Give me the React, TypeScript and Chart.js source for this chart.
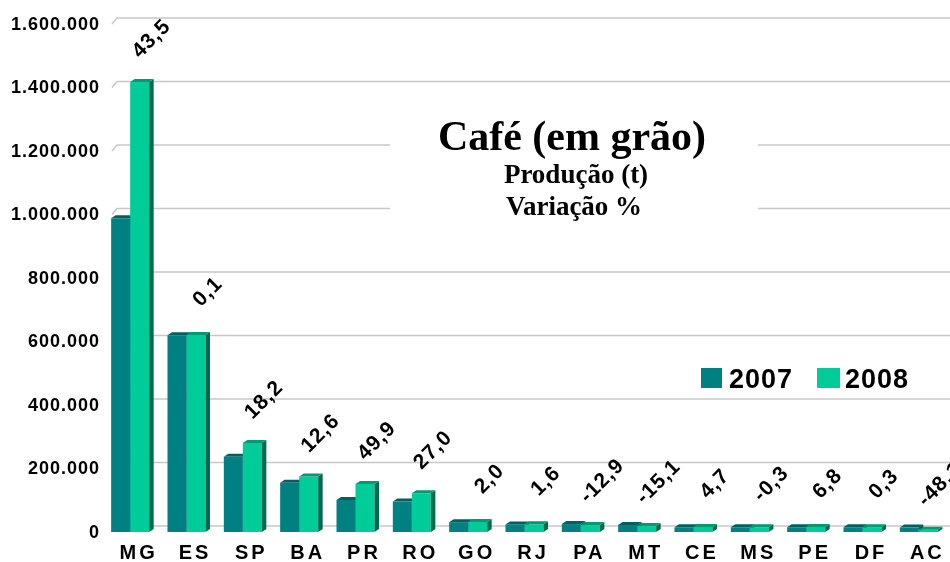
import React, { useEffect, useRef } from "react";
import { Chart, registerables } from "chart.js";

Chart.register(...registerables);

const categories = ["MG", "ES", "SP", "BA", "PR", "RO", "GO", "RJ", "PA", "MT", "CE", "MS", "PE", "DF", "AC"];
const prod2007 = [988000, 620000, 237000, 155000, 101000, 96000, 31000, 24000, 25000, 22000, 15000, 15000, 15000, 15000, 14000];
const prod2008 = [1417000, 620600, 280000, 174500, 151400, 122000, 31600, 24400, 21800, 18700, 15700, 14950, 16000, 15050, 7300];
const variation = [43.5, 0.1, 18.2, 12.6, 49.9, 27.0, 2.0, 1.6, -12.9, -15.1, 4.7, -0.3, 6.8, 0.3, -48.1];
const yTicks = [0, 200000, 400000, 600000, 800000, 1000000, 1200000, 1400000, 1600000];
const seriesNames = ["2007", "2008"];
const titleLines = ["Café (em grão)", "Produção (t)", "Variação %"];

const C2007 = { front: "#008080", top: "#005f5f", side: "#004f4f" };
const C2008 = { front: "#00cc99", top: "#009a72", side: "#006a4e" };
const SANS = '"Liberation Sans", Arial, sans-serif';
const SERIF = '"Liberation Serif", "Times New Roman", serif';
const DX = 4.5;
const DY = 3;

const fmtThousands = (v: number) => v.toString().replace(/\B(?=(\d{3})+(?!\d))/g, ".");
const fmtVar = (v: number) => v.toFixed(1).replace(".", ",");

function drawFaces(ctx: CanvasRenderingContext2D, bar: any, col: { top: string; side: string }) {
  const l = bar.x - bar.width / 2;
  const r = bar.x + bar.width / 2;
  const t = bar.y;
  const b = bar.base;
  ctx.fillStyle = col.side;
  ctx.beginPath();
  ctx.moveTo(r, t);
  ctx.lineTo(r + DX, t - DY);
  ctx.lineTo(r + DX, b - DY);
  ctx.lineTo(r, b);
  ctx.closePath();
  ctx.fill();
  ctx.fillStyle = col.top;
  ctx.beginPath();
  ctx.moveTo(l, t);
  ctx.lineTo(r, t);
  ctx.lineTo(r + DX, t - DY);
  ctx.lineTo(l + DX, t - DY);
  ctx.closePath();
  ctx.fill();
}

const decorPlugin = {
  id: "decor",
  beforeDatasetsDraw(chart: any) {
    const { ctx, chartArea, scales } = chart;
    const y = scales.y;
    const x = scales.x;
    ctx.save();
    // gridlines on back wall
    ctx.strokeStyle = "#c8c8c8";
    ctx.lineWidth = 1.5;
    yTicks.forEach((v) => {
      const py = y.getPixelForValue(v);
      ctx.beginPath();
      ctx.moveTo(chartArea.left + 10, py);
      ctx.lineTo(chartArea.left + 15, py - 6);
      ctx.lineTo(chart.width, py - 6);
      ctx.stroke();
    });
    // title box
    ctx.fillStyle = "#ffffff";
    ctx.fillRect(390, 100, 368, 150);
    ctx.fillStyle = "#000000";
    ctx.textAlign = "center";
    ctx.textBaseline = "alphabetic";
    ctx.font = `bold 42px ${SERIF}`;
    ctx.fillText(titleLines[0], 572, 150);
    ctx.font = `bold 27px ${SERIF}`;
    ctx.fillText(titleLines[1], 576, 183);
    ctx.fillText(titleLines[2], 574, 215);

    // y tick labels
    (ctx as any).letterSpacing = "1px";
    ctx.font = `bold 18px ${SANS}`;
    ctx.textAlign = "right";
    ctx.textBaseline = "middle";
    yTicks.forEach((v) => {
      ctx.fillText(fmtThousands(v), 100, y.getPixelForValue(v) + 1);
    });

    // x labels
    (ctx as any).letterSpacing = "3px";
    ctx.font = `bold 20px ${SANS}`;
    ctx.textAlign = "center";
    ctx.textBaseline = "alphabetic";
    categories.forEach((c, i) => {
      ctx.fillText(c, x.getPixelForValue(i) + 8.5, 559);
    });

    // legend
    (ctx as any).letterSpacing = "1px";
    ctx.font = `bold 27px ${SANS}`;
    ctx.textAlign = "left";
    ctx.fillStyle = C2007.front;
    ctx.fillRect(701, 368, 21, 20);
    ctx.fillStyle = C2008.front;
    ctx.fillRect(817, 368, 23, 20);
    ctx.fillStyle = "#000";
    ctx.fillText(seriesNames[0], 729, 388);
    ctx.fillText(seriesNames[1], 845, 388);
    (ctx as any).letterSpacing = "0px";

    // 2007 3D faces (under fronts)
    const meta0 = chart.getDatasetMeta(0);
    meta0.data.forEach((bar: any) => drawFaces(ctx, bar, C2007));
    ctx.restore();
  },
  afterDatasetsDraw(chart: any) {
    const { ctx } = chart;
    ctx.save();
    const meta0 = chart.getDatasetMeta(0);
    const meta1 = chart.getDatasetMeta(1);
    meta1.data.forEach((bar: any) => drawFaces(ctx, bar, C2008));
    // variation labels
    (ctx as any).letterSpacing = "1px";
    ctx.font = `bold 21px ${SANS}`;
    ctx.fillStyle = "#000";
    ctx.textAlign = "center";
    ctx.textBaseline = "middle";
    meta1.data.forEach((bar: any, i: number) => {
      const top = Math.min(bar.y, meta0.data[i].y);
      ctx.save();
      ctx.translate(bar.x + 12, top - 43);
      ctx.rotate(-Math.PI / 4);
      ctx.fillText(fmtVar(variation[i]), 0, 0);
      ctx.restore();
    });
    (ctx as any).letterSpacing = "0px";
    ctx.restore();
  },
};

export default function App() {
  const ref = useRef<HTMLCanvasElement | null>(null);
  useEffect(() => {
    if (!ref.current) return;
    const chart = new Chart(ref.current, {
      type: "bar",
      data: {
        labels: categories,
        datasets: [
          { label: seriesNames[0], data: prod2007, backgroundColor: C2007.front, borderWidth: 0 },
          { label: seriesNames[1], data: prod2008, backgroundColor: C2008.front, borderWidth: 0 },
        ],
      },
      options: {
        animation: false,
        responsive: false,
        devicePixelRatio: 1,
        layout: { padding: { left: 102, right: 3, top: 24, bottom: 30 } },
        datasets: { bar: { categoryPercentage: 0.675, barPercentage: 1.0 } },
        scales: {
          x: { display: false, offset: true },
          y: { display: false, min: 0, max: 1600000 },
        },
        plugins: { legend: { display: false }, tooltip: { enabled: false }, title: { display: false } },
      },
      plugins: [decorPlugin],
    });
    return () => chart.destroy();
  }, []);
  return (
    <div style={{ position: "fixed", left: 0, top: 0, width: 950, height: 562, background: "#fff" }}>
      <canvas ref={ref} width={950} height={562} style={{ display: "block" }} />
    </div>
  );
}
